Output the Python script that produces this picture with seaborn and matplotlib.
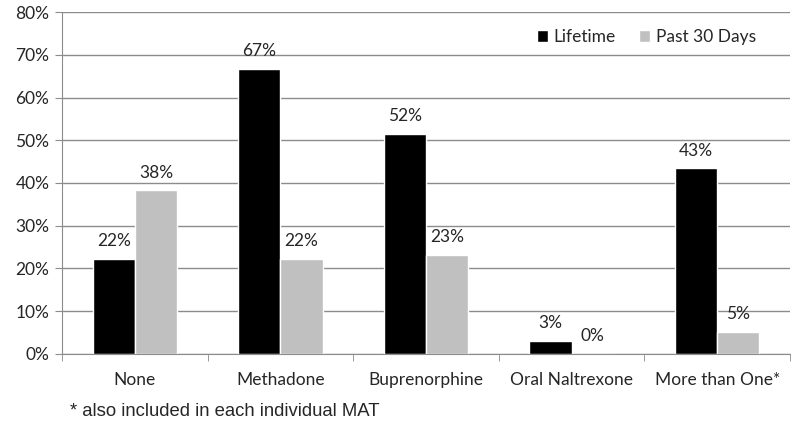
import seaborn as sns
import matplotlib
import matplotlib.pyplot as plt
import numpy as np
import pandas as pd
from matplotlib.ticker import FixedLocator, PercentFormatter

matplotlib.use('Agg')

categories = ['None', 'Methadone', 'Buprenorphine', 'Oral Naltrexone', 'More than One*']
lifetime = [22.2, 66.7, 51.5, 3.0, 43.4]
past30 = [38.3, 22.2, 23.2, 0.0, 5.1]
series = ['Lifetime', 'Past 30 Days']

df = pd.DataFrame({
    'cat': categories * 2,
    'val': lifetime + past30,
    'series': [series[0]] * 5 + [series[1]] * 5,
})

sns.set_style('white')
plt.rcParams['font.family'] = ['Lato', 'DejaVu Sans']

fig = plt.figure(figsize=(8, 4.3), dpi=100)
ax = fig.add_axes([0.0775, 0.177, 0.91, 0.795])

sns.barplot(data=df, x='cat', y='val', hue='series', order=categories,
            hue_order=series, palette=['#000000', '#c0c0c0'],
            width=0.58, saturation=1, errorbar=None, ax=ax)

for cont in ax.containers:
    ax.bar_label(cont, labels=['%d%%' % round(v) for v in cont.datavalues],
                 padding=7, fontsize=12.5)

ax.set_ylim(0, 80)
ax.set_xlim(-0.5, 4.5)
ax.yaxis.set_major_locator(FixedLocator(np.arange(0, 81, 10)))
ax.yaxis.set_major_formatter(PercentFormatter(decimals=0))
ax.grid(axis='y', color='#8c8c8c', lw=1)
ax.set_axisbelow(True)
for s in ['top', 'right']:
    ax.spines[s].set_visible(False)
for s in ['left', 'bottom']:
    ax.spines[s].set_color('#8c8c8c')
ax.tick_params(axis='y', left=True, length=5, color='#8c8c8c', labelsize=12.5, pad=4)
ax.tick_params(axis='x', which='major', length=0, labelsize=12.5, pad=13)
ax.xaxis.set_minor_locator(FixedLocator(np.arange(-0.5, 4.6, 1)))
ax.tick_params(axis='x', which='minor', bottom=True, length=5, color='#8c8c8c')
ax.set_xlabel('')
ax.set_ylabel('')

ax.legend(loc='upper right', bbox_to_anchor=(0.975, 0.995), ncol=2, frameon=False,
          handlelength=0.65, handleheight=0.65, handletextpad=0.35,
          columnspacing=1.3, fontsize=12.5)

fig.text(0.088, 0.042, '* also included in each individual MAT',
         fontsize=13.3, family='Liberation Sans', va='center')

plt.savefig('out.png', dpi=100)
